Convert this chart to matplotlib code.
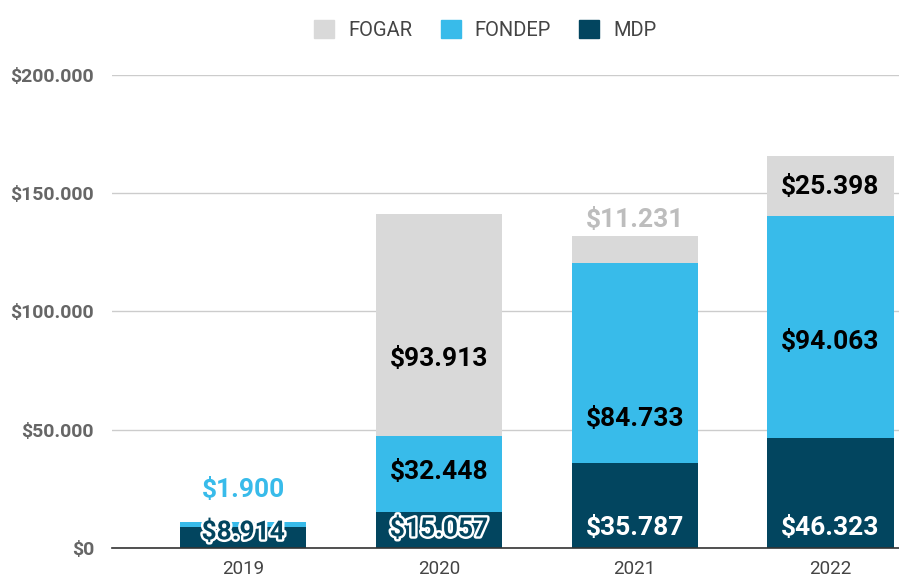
import matplotlib.pyplot as plt
import matplotlib.patheffects as pe
from matplotlib.patches import Patch
import numpy as np

plt.rcParams['font.family'] = ['Roboto', 'DejaVu Sans']

anios = ["2019", "2020", "2021", "2022"]
mdp = [8914, 15057, 35787, 46323]
fondep = [1900, 32448, 84733, 94063]
fogar = [0, 93913, 11231, 25398]

c_mdp = "#02455f"
c_fondep = "#38bbea"
c_fogar = "#d9d9d9"


def fmt(v):
    return "$" + f"{v:,}".replace(",", ".")


fig = plt.figure(figsize=(8.99, 5.8), dpi=100)
ax = fig.add_axes([0.1246, 0.0552, 0.8754, 0.8155])

x = np.arange(len(anios))
w = 0.645
mdp_a = np.array(mdp)
fon_a = np.array(fondep)
fog_a = np.array(fogar)

ax.bar(x, mdp_a, w, color=c_mdp, zorder=3)
ax.bar(x, fon_a, w, bottom=mdp_a, color=c_fondep, zorder=3)
ax.bar(x, fog_a, w, bottom=mdp_a + fon_a, color=c_fogar, zorder=3)

# posiciones de las etiquetas (como en el original, no siempre centradas)
y_mdp = [6600, 7900, 8300, 8300]
y_fondep = [24400, 32000, 54400, 86900]
y_fogar = [None, 79800, 138500, 152500]

fs = 19
outline = [pe.withStroke(linewidth=3.5, foreground="white")]
for i in range(len(anios)):
    # MDP
    if mdp[i] < 20000:
        ax.text(x[i], y_mdp[i], fmt(mdp[i]), ha="center", va="center",
                fontsize=fs, fontweight="bold", color=c_mdp, path_effects=outline, zorder=5)
    else:
        ax.text(x[i], y_mdp[i], fmt(mdp[i]), ha="center", va="center",
                fontsize=fs, fontweight="bold", color="white", zorder=5)
    # FONDEP
    color = c_fondep if fondep[i] < 5000 else "black"
    ax.text(x[i], y_fondep[i], fmt(fondep[i]), ha="center", va="center",
            fontsize=fs, fontweight="bold", color=color, zorder=5)
    # FOGAR
    if fogar[i] == 0:
        continue
    color = "#bdbdbd" if fogar[i] < 15000 else "black"
    ax.text(x[i], y_fogar[i], fmt(fogar[i]), ha="center", va="center",
            fontsize=fs, fontweight="bold", color=color, zorder=5)

ax.set_ylim(0, 200000)
ax.set_xlim(-0.67, 3.35)
ax.set_yticks([0, 50000, 100000, 150000, 200000])
ax.set_yticklabels([fmt(v) for v in [0, 50000, 100000, 150000, 200000]],
                   fontsize=14, fontweight="bold", color="#666666")
ax.set_xticks(x)
ax.set_xticklabels(anios, fontsize=13.5, color="#444444")
ax.tick_params(axis="y", length=0, pad=13)
ax.tick_params(axis="x", length=0, pad=9)
ax.grid(axis="y", color="#cccccc", linewidth=1, zorder=0)
for s in ["top", "right", "left"]:
    ax.spines[s].set_visible(False)
ax.spines["bottom"].set_color("#333333")
ax.spines["bottom"].set_linewidth(1.2)
ax.spines["bottom"].set_zorder(4)

handles = [Patch(color=c_fogar, label="FOGAR"),
           Patch(color=c_fondep, label="FONDEP"),
           Patch(color=c_mdp, label="MDP")]
fig.legend(handles=handles, loc="center", bbox_to_anchor=(0.54, 0.948), ncol=3,
           frameon=False, fontsize=14.5, handlelength=1.0, handleheight=1.0,
           columnspacing=1.4, handletextpad=0.7, labelcolor="#444444")

fig.savefig("out.png", dpi=100)
